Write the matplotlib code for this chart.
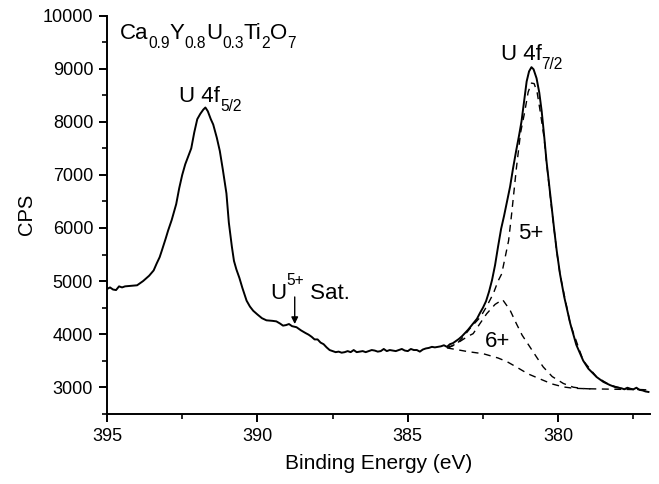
import matplotlib
matplotlib.use("Agg")
import matplotlib.pyplot as plt
from matplotlib.ticker import MultipleLocator
from matplotlib.transforms import offset_copy

plt.rcParams["font.family"] = ["Liberation Sans", "DejaVu Sans"]

# measured spectrum (binding energy in eV, counts per second)
energy = [395.0, 394.9, 394.8, 394.7, 394.6, 394.5, 394.4, 394.2, 394.0, 393.8,
          393.6, 393.45, 393.35, 393.25, 393.18, 393.05, 392.97, 392.85, 392.7, 392.6,
          392.5, 392.4, 392.3, 392.2, 392.1, 392.0, 391.9, 391.8, 391.73, 391.65,
          391.55, 391.47, 391.35, 391.25, 391.15, 391.03, 390.95, 390.85, 390.78, 390.7,
          390.6, 390.5, 390.36, 390.25, 390.14, 390.0, 389.85, 389.7, 389.5, 389.37,
          389.25, 389.15, 389.05, 388.95, 388.85, 388.7, 388.55, 388.4, 388.3, 388.2,
          388.1, 388.0, 387.9, 387.8, 387.7, 387.6, 387.5, 387.4, 387.3, 387.2,
          387.1, 387.0, 386.9, 386.8, 386.7, 386.6, 386.5, 386.4, 386.3, 386.2,
          386.1, 386.0, 385.9, 385.8, 385.7, 385.6, 385.5, 385.4, 385.3, 385.2,
          385.1, 385.0, 384.9, 384.8, 384.7, 384.6, 384.5, 384.4, 384.3, 384.2,
          384.1, 384.0, 383.9, 383.8, 383.7, 383.6, 383.5, 383.4, 383.3, 383.2,
          383.1, 383.0, 382.9, 382.8, 382.7, 382.6, 382.5, 382.4, 382.3, 382.2,
          382.1, 382.0, 381.9, 381.8, 381.7, 381.6, 381.5, 381.4, 381.3, 381.22,
          381.13, 381.05, 380.97, 380.89, 380.82, 380.72, 380.63, 380.55, 380.47, 380.39,
          380.3, 380.22, 380.13, 380.05, 379.94, 379.8, 379.6, 379.4, 379.17, 379.0,
          378.72, 378.5, 378.28, 378.1, 377.9, 377.8, 377.7, 377.6, 377.5, 377.4,
          377.3, 377.2, 377.1, 377.0]
cps = [4850, 4880, 4840, 4830, 4900, 4880, 4900, 4910, 4920, 5000,
       5100, 5200, 5330, 5450, 5570, 5800, 5950, 6150, 6450, 6750,
       7000, 7200, 7350, 7500, 7800, 8050, 8150, 8230, 8270, 8200,
       8050, 7950, 7700, 7450, 7100, 6650, 6100, 5650, 5380, 5220,
       5060, 4870, 4630, 4520, 4440, 4370, 4300, 4260, 4250, 4240,
       4200, 4160, 4170, 4190, 4150, 4130, 4070, 4020, 3990, 3950,
       3900, 3900, 3840, 3810, 3750, 3700, 3680, 3660, 3670, 3650,
       3660, 3680, 3660, 3700, 3660, 3670, 3680, 3660, 3680, 3700,
       3690, 3670, 3680, 3720, 3680, 3700, 3690, 3680, 3700, 3720,
       3690, 3680, 3720, 3700, 3700, 3670, 3710, 3730, 3740, 3760,
       3750, 3760, 3770, 3790, 3760, 3810, 3830, 3870, 3910, 3960,
       4020, 4080, 4150, 4220, 4290, 4400, 4500, 4620, 4800, 5020,
       5300, 5650, 5980, 6230, 6500, 6780, 7130, 7450, 7750, 8010,
       8400, 8760, 8950, 9030, 8990, 8820, 8550, 8200, 7750, 7260,
       6800, 6380, 5950, 5570, 5130, 4700, 4200, 3800, 3500, 3350,
       3190, 3100, 3040, 3000, 2980, 2960, 2990, 2970, 2960, 2990,
       2950, 2940, 2920, 2910]

# fitted U5+ component
u5_energy = [383.7, 383.4, 383.16, 382.9, 382.59, 382.4, 382.16, 382.0, 381.88, 381.65,
             381.55, 381.39, 381.25, 381.11, 381.0, 380.89, 380.8, 380.7, 380.6, 380.47,
             380.39, 380.22, 380.05, 379.94, 379.6, 379.17, 378.72, 378.28, 377.9, 377.5,
             377.0]
u5_cps = [3750, 3800, 3945, 4130, 4320, 4500, 4760, 5000, 5134, 5760,
          6260, 7130, 7800, 8200, 8560, 8730, 8720, 8550, 8200, 7700,
          7240, 6370, 5560, 5120, 4190, 3500, 3190, 3040, 2980, 2960,
          2950]

# fitted U6+ component
u6_energy = [383.65, 383.3, 383.0, 382.83, 382.6, 382.38, 382.1, 381.85, 381.6, 381.39,
             381.2, 380.94, 380.7, 380.5, 380.2, 379.83, 379.5, 379.2, 378.8]
u6_cps = [3740, 3850, 3960, 4008, 4200, 4383, 4560, 4650, 4450, 4196,
          3980, 3757, 3550, 3382, 3200, 3070, 3000, 2975, 2965]

# background
bg_energy = [383.7, 383.3, 383.0, 382.49, 382.0, 381.7, 381.39, 381.0, 380.5, 380.2,
             379.83, 379.5, 379.0, 378.5, 378.0, 377.5, 377.0]
bg_cps = [3740, 3700, 3670, 3630, 3550, 3480, 3380, 3250, 3130, 3060,
          3005, 2980, 2970, 2965, 2960, 2955, 2950]

fig = plt.figure(figsize=(6.59, 4.84), dpi=100)
ax = fig.add_axes([0.1624, 0.1452, 0.8239, 0.8224])

ax.plot(bg_energy, bg_cps, color="black", linestyle=(0, (5, 4)), linewidth=1.0)
ax.plot(u6_energy, u6_cps, color="black", linestyle=(0, (5, 4)), linewidth=1.0)
ax.plot(u5_energy, u5_cps, color="black", linestyle=(0, (5, 4)), linewidth=1.0)
ax.plot(energy, cps, color="black", linewidth=1.4)

ax.set_xlim(395, 376.95)
ax.set_ylim(2500, 10000)
ax.xaxis.set_major_locator(MultipleLocator(5))
ax.xaxis.set_minor_locator(MultipleLocator(2.5))
ax.yaxis.set_major_locator(MultipleLocator(1000))
ax.yaxis.set_minor_locator(MultipleLocator(500))

for side in ["top", "right"]:
    ax.spines[side].set_visible(False)
for side in ["left", "bottom"]:
    ax.spines[side].set_linewidth(1.4)

ax.tick_params(which="major", direction="out", length=6, width=1.4, labelsize=13, pad=4)
ax.tick_params(which="minor", direction="out", length=3.5, width=1.2)

ax.set_xlabel("Binding Energy (eV)", fontsize=15, labelpad=7)
ax.set_ylabel("CPS", fontsize=14.5, labelpad=5)

renderer = fig.canvas.get_renderer()


def label(x, y, runs, size=16):
    # runs: (text, kind) with kind "n" normal, "sub" subscript, "sup" superscript
    dx = 0.0
    for s, kind in runs:
        if kind == "sub":
            fs, dy = size * 0.7, -0.42 * size
        elif kind == "sup":
            fs, dy = size * 0.7, 0.6 * size
        else:
            fs, dy = size, 0.0
        tr = offset_copy(ax.transData, fig=fig, x=dx, y=dy, units="points")
        t = ax.text(x, y, s, fontsize=fs, transform=tr, va="baseline", ha="left")
        dx += t.get_window_extent(renderer).width * 72.0 / fig.dpi


label(394.58, 9567, [("Ca", "n"), ("0.9", "sub"), ("Y", "n"), ("0.8", "sub"),
                     ("U", "n"), ("0.3", "sub"), ("Ti", "n"), ("2", "sub"),
                     ("O", "n"), ("7", "sub")])
label(392.6, 8372, [("U 4f", "n"), ("5/2", "sub")])
label(381.91, 9167, [("U 4f", "n"), ("7/2", "sub")])
label(381.35, 5790, [("5+", "n")])
label(382.44, 3757, [("6+", "n")])
label(389.59, 4665, [("U", "n"), ("5+", "sup"), (" Sat.", "n")])

ax.annotate("", xy=(388.76, 4190), xytext=(388.76, 4700),
            arrowprops=dict(arrowstyle="-|>", color="black", lw=1.0,
                            mutation_scale=10, shrinkA=0, shrinkB=0))

fig.savefig("out.png", dpi=100)
